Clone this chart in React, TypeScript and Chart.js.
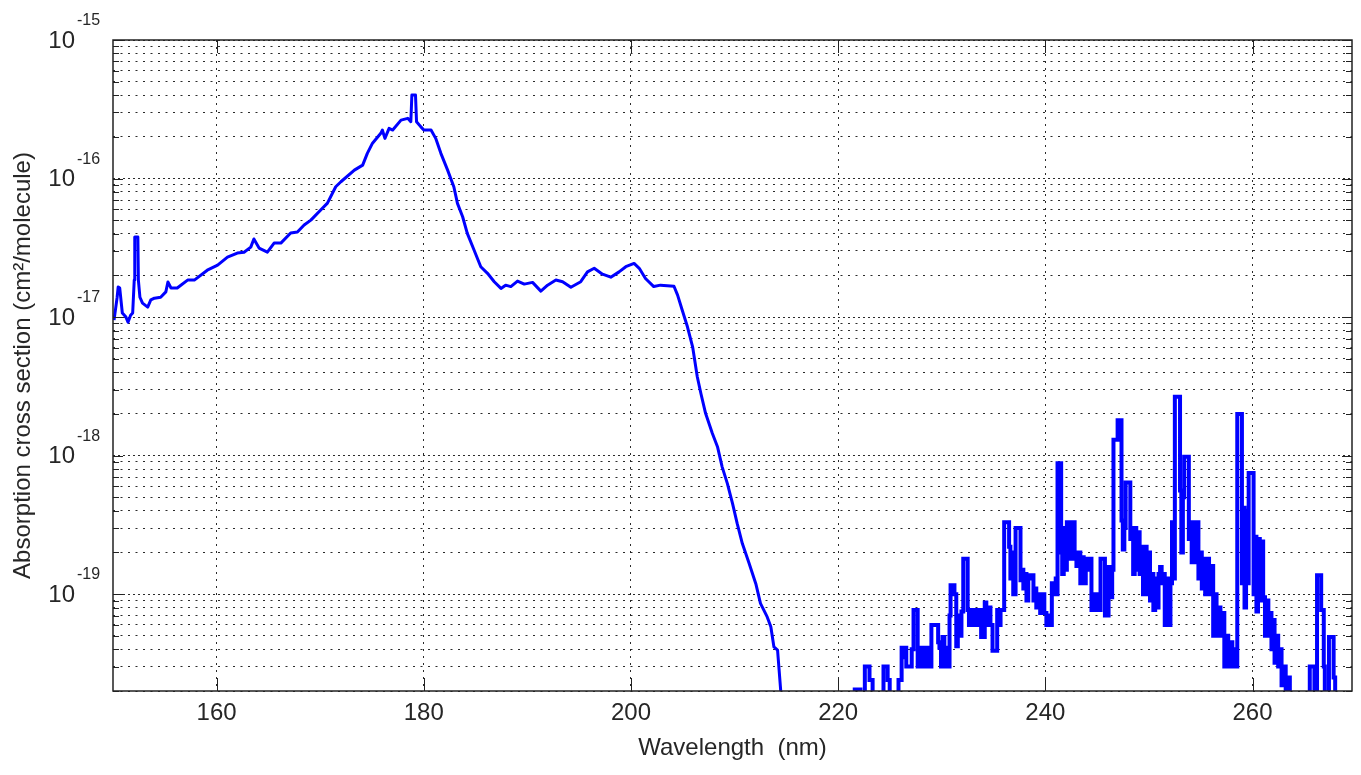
import React, { useEffect, useRef } from 'react';
import { Chart, registerables } from 'chart.js';

Chart.register(...registerables);

// ---- Continuum (150 – 215 nm) ----
const WAVELENGTH_CONTINUUM = [
  150.1, 150.4, 150.5, 150.65, 150.9, 151.25, 151.45, 151.7, 151.9, 152.05,
  152.1, 152.4, 152.45, 152.6, 152.85, 153.35, 153.65, 154.0, 154.6, 155.1,
  155.3, 155.6, 156.2, 157.2, 157.85, 159.1, 160.1, 161.05, 162.0, 162.65,
  163.3, 163.6, 164.1, 164.9, 165.55, 166.2, 167.15, 167.8, 168.45, 169.1,
  170.05, 170.7, 171.5, 172.0, 173.3, 174.1, 174.55, 175.05, 175.85, 176.0,
  176.25, 176.65, 177.0, 177.8, 178.45, 178.75, 178.85, 179.2, 179.3, 179.7,
  180.0, 180.7, 181.15, 181.65, 182.3, 182.9, 183.25, 183.75, 184.2, 184.85,
  185.5, 186.15, 186.8, 187.45, 187.9, 188.4, 189.05, 189.7, 190.5, 191.3,
  191.95, 192.75, 193.4, 194.2, 195.15, 195.8, 196.45, 197.25, 198.05, 198.85,
  199.5, 200.3, 200.8, 201.4, 202.2, 202.85, 204.15, 204.5, 204.95, 205.45,
  205.95, 206.4, 206.75, 207.2, 207.85, 208.35, 208.8, 209.3, 209.8, 210.25,
  210.75, 211.4, 212.05, 212.5, 213.15, 213.5, 213.8, 214.15, 214.3, 214.45,
  214.65,
];
const SIGMA_CONTINUUM = [
  9.5e-18, 1.39e-17, 1.65e-17, 1.62e-17, 1.07e-17, 1.0e-17, 9.2e-18, 1.03e-17, 1.07e-17, 1.85e-17,
  3.78e-17, 3.78e-17, 1.85e-17, 1.39e-17, 1.26e-17, 1.18e-17, 1.33e-17, 1.37e-17, 1.39e-17, 1.52e-17,
  1.79e-17, 1.62e-17, 1.62e-17, 1.85e-17, 1.85e-17, 2.18e-17, 2.37e-17, 2.71e-17, 2.9e-17, 2.94e-17,
  3.2e-17, 3.66e-17, 3.15e-17, 2.94e-17, 3.42e-17, 3.42e-17, 4.04e-17, 4.11e-17, 4.62e-17, 5.01e-17,
  5.93e-17, 6.65e-17, 8.73e-17, 9.48e-17, 1.15e-16, 1.25e-16, 1.52e-16, 1.8e-16, 2.12e-16, 2.24e-16,
  1.95e-16, 2.3e-16, 2.24e-16, 2.64e-16, 2.72e-16, 2.57e-16, 4.01e-16, 4.01e-16, 2.57e-16, 2.37e-16,
  2.24e-16, 2.24e-16, 1.95e-16, 1.52e-16, 1.15e-16, 8.73e-17, 6.62e-17, 5.3e-17, 4.02e-17, 3.05e-17,
  2.31e-17, 2.07e-17, 1.8e-17, 1.61e-17, 1.7e-17, 1.66e-17, 1.82e-17, 1.73e-17, 1.78e-17, 1.54e-17,
  1.7e-17, 1.85e-17, 1.8e-17, 1.64e-17, 1.8e-17, 2.12e-17, 2.25e-17, 2.04e-17, 1.94e-17, 2.12e-17,
  2.31e-17, 2.44e-17, 2.25e-17, 1.9e-17, 1.66e-17, 1.7e-17, 1.67e-17, 1.44e-17, 1.12e-17, 8.51e-18,
  6.1e-18, 3.71e-18, 2.81e-18, 2.02e-18, 1.45e-18, 1.16e-18, 8.3e-19, 6.3e-19, 4.52e-19, 3.24e-19,
  2.32e-19, 1.67e-19, 1.19e-19, 8.57e-20, 6.85e-20, 5.81e-20, 4.16e-20, 3.94e-20, 2.83e-20, 2.03e-20,
  1.5e-20,
];

// ---- Banded structure (221 – 270 nm) ----
const WAVELENGTH_BANDS = [
  221.5, 221.7, 222.1, 222.2, 222.55, 222.6, 223.0, 223.05, 223.3, 223.35,
  224.35, 224.4, 224.75, 224.8, 224.95, 225.0, 225.8, 225.85, 226.1, 226.15,
  226.35, 226.55, 226.6, 227.05, 227.15, 227.25, 227.3, 227.65, 227.7, 227.9,
  228.1, 228.3, 228.5, 228.7, 228.9, 229.1, 229.6, 229.7, 229.85, 230.0,
  230.15, 230.35, 230.5, 230.7, 230.8, 230.9, 231.15, 231.3, 231.5, 231.6,
  231.8, 232.0, 232.15, 232.45, 232.55, 232.7, 232.9, 233.1, 233.3, 233.5,
  233.7, 233.9, 234.1, 234.2, 234.4, 234.6, 234.8, 235.0, 235.3, 235.4,
  235.6, 235.75, 236.0, 236.05, 236.45, 236.55, 236.7, 236.85, 236.95, 237.1,
  237.15, 237.55, 237.65, 237.8, 237.95, 238.1, 238.25, 238.45, 238.6, 238.8,
  238.9, 239.05, 239.2, 239.4, 239.6, 239.8, 240.0, 240.2, 240.4, 240.55,
  240.7, 240.9, 241.1, 241.15, 241.2, 241.5, 241.55, 241.7, 241.85, 242.0,
  242.15, 242.3, 242.45, 242.6, 242.75, 242.9, 243.1, 243.3, 243.45, 243.6,
  243.8, 244.0, 244.2, 244.4, 244.5, 244.7, 244.9, 245.1, 245.3, 245.35,
  245.7, 245.8, 246.05, 246.15, 246.35, 246.55, 246.6, 246.95, 247.0, 247.3,
  247.4, 247.55, 247.7, 247.8, 248.15, 248.25, 248.4, 248.55, 248.7, 248.85,
  249.0, 249.2, 249.35, 249.5, 249.7, 249.85, 250.0, 250.2, 250.35, 250.5,
  250.7, 250.85, 251.0, 251.15, 251.3, 251.45, 251.6, 251.8, 252.0, 252.15,
  252.3, 252.45, 252.55, 252.95, 253.05, 253.2, 253.35, 253.45, 253.8, 253.9,
  254.05, 254.2, 254.4, 254.55, 254.7, 254.85, 255.0, 255.2, 255.35, 255.5,
  255.7, 255.9, 256.1, 256.3, 256.45, 256.6, 256.8, 257.0, 257.2, 257.35,
  257.55, 257.75, 257.95, 258.15, 258.35, 258.5, 258.55, 258.95, 259.0, 259.15,
  259.3, 259.45, 259.6, 259.65, 260.05, 260.15, 260.3, 260.45, 260.6, 260.8,
  260.95, 261.1, 261.3, 261.45, 261.6, 261.75, 261.9, 262.05, 262.2, 262.4,
  262.55, 262.7, 262.9, 263.1, 263.3, 263.5, 263.7, 265.5, 265.55, 265.95,
  266.0, 266.2, 266.25, 266.6, 266.65, 266.85, 266.9, 267.05, 267.35, 267.4,
  267.8, 267.85, 268.1, 269.6,
];
const SIGMA_BANDS = [
  1.5e-20, 2.05e-20, 2.05e-20, 1.5e-20, 1.5e-20, 3.0e-20, 3.0e-20, 2.4e-20, 2.4e-20, 1.5e-20,
  1.5e-20, 3.0e-20, 3.0e-20, 2.4e-20, 2.4e-20, 1.5e-20, 1.5e-20, 2.4e-20, 2.4e-20, 4.1e-20,
  3.5e-20, 4.1e-20, 3.0e-20, 3.0e-20, 4.0e-20, 4.0e-20, 7.7e-20, 7.7e-20, 3.0e-20, 4.1e-20,
  3.0e-20, 4.1e-20, 3.0e-20, 4.1e-20, 3.0e-20, 6.0e-20, 6.0e-20, 4.5e-20, 4.1e-20, 3.0e-20,
  4.9e-20, 3.0e-20, 4.1e-20, 3.0e-20, 7.0e-20, 1.16e-19, 1.16e-19, 1.0e-19, 4.2e-20, 7.0e-20,
  5.0e-20, 7.5e-20, 1.8e-19, 1.8e-19, 7.7e-20, 6.0e-20, 7.7e-20, 6.0e-20, 7.7e-20, 6.0e-20,
  7.7e-20, 4.9e-20, 4.9e-20, 8.7e-20, 6.0e-20, 8.0e-20, 6.0e-20, 3.9e-20, 3.9e-20, 7.7e-20,
  6.0e-20, 7.7e-20, 7.7e-20, 3.3e-19, 3.3e-19, 2.2e-19, 1.3e-19, 2.0e-19, 1.0e-19, 1.0e-19,
  3.0e-19, 3.0e-19, 1.26e-19, 1.5e-19, 1.1e-19, 1.4e-19, 9.0e-20, 1.3e-19, 1.37e-19, 1.37e-19,
  9.0e-20, 1.1e-19, 8.0e-20, 1.0e-19, 7.3e-20, 1.0e-19, 7.3e-20, 6.0e-20, 7.0e-20, 6.0e-20,
  1.2e-19, 1.0e-19, 1.3e-19, 1.0e-19, 8.8e-19, 8.8e-19, 2.0e-19, 1.4e-19, 3.0e-19, 1.5e-19,
  3.3e-19, 1.8e-19, 3.3e-19, 1.8e-19, 3.3e-19, 2.0e-19, 1.6e-19, 2.0e-19, 1.2e-19, 1.85e-19,
  1.2e-19, 1.8e-19, 1.5e-19, 1.8e-19, 7.7e-20, 1.0e-19, 7.7e-20, 1.0e-19, 7.7e-20, 1.8e-19,
  1.8e-19, 7.0e-20, 7.0e-20, 1.57e-19, 9.5e-20, 1.5e-19, 1.3e-18, 1.3e-18, 1.8e-18, 1.8e-18,
  3.4e-19, 2.1e-19, 3.0e-19, 6.4e-19, 6.4e-19, 2.5e-19, 3.0e-19, 1.4e-19, 3.0e-19, 1.5e-19,
  2.8e-19, 1.4e-19, 2.2e-19, 1.0e-19, 2.2e-19, 1.0e-19, 2.0e-19, 9.0e-20, 1.4e-19, 7.7e-20,
  1.3e-19, 8.0e-20, 1.4e-19, 1.57e-19, 1.2e-19, 1.4e-19, 6.0e-20, 1.3e-19, 6.0e-20, 1.2e-19,
  3.3e-19, 1.3e-19, 2.66e-18, 2.66e-18, 5.6e-19, 2.0e-19, 5.0e-19, 9.8e-19, 9.8e-19, 2.5e-19,
  3.3e-19, 1.7e-19, 3.3e-19, 1.7e-19, 3.3e-19, 1.3e-19, 2.0e-19, 1.1e-19, 1.8e-19, 1.0e-19,
  1.8e-19, 1.0e-19, 1.6e-19, 5.0e-20, 1.0e-19, 5.0e-20, 8.0e-20, 5.0e-20, 7.3e-20, 3.0e-20,
  5.0e-20, 3.0e-20, 4.5e-20, 3.0e-20, 4.0e-20, 3.0e-20, 2.0e-18, 2.0e-18, 1.2e-19, 4.2e-19,
  8.0e-20, 4.0e-19, 1.2e-19, 7.5e-19, 7.5e-19, 1.0e-19, 2.6e-19, 7.5e-20, 2.5e-19, 9.0e-20,
  2.4e-19, 9.5e-20, 5.0e-20, 9.0e-20, 5.0e-20, 7.3e-20, 4.0e-20, 6.5e-20, 3.2e-20, 5.0e-20,
  3.0e-20, 4.0e-20, 2.2e-20, 3.0e-20, 1.8e-20, 2.5e-20, 1.5e-20, 1.5e-20, 3.0e-20, 3.0e-20,
  1.5e-20, 1.5e-20, 1.37e-19, 1.37e-19, 7.7e-20, 7.7e-20, 3.0e-20, 1.5e-20, 1.5e-20, 4.9e-20,
  4.9e-20, 2.5e-20, 1.5e-20, 1.5e-20,
];

// ---- Axes ----
const X_TICKS = [160, 180, 200, 220, 240, 260];
const Y_EXPONENTS = [-20, -19, -18, -17, -16, -15];
const Y_MANTISSAS = [1, 2, 3, 4, 5, 6, 7, 8, 9];
const Y_LABEL_EXPONENTS = [-15, -16, -17, -18, -19];
const X_RANGE = [150, 269.6];
const Y_RANGE = [2e-20, 1e-15];

const FAMILY = '"Liberation Sans", Arial, Helvetica, sans-serif';
const TEXT_COLOR = '#262626';
const GRID_COLOR = 'rgba(20,20,20,0.9)';
const LINE_COLOR = '#0000ff';

function buildLogTicks() {
  const out: { value: number; major: boolean }[] = [];
  for (const e of Y_EXPONENTS) {
    for (const m of Y_MANTISSAS) {
      const v = Number(`${m}e${e}`);
      if (v >= Y_RANGE[0] * 0.999 && v <= Y_RANGE[1] * 1.001) out.push({ value: v, major: m === 1 });
    }
  }
  return out;
}

const matlabAxesPlugin = {
  id: 'matlabAxes',
  afterDraw(chart: any) {
    const { ctx, chartArea } = chart;
    const { left, right, top, bottom } = chartArea;
    const xs = chart.scales.x;
    const ys = chart.scales.y;
    ctx.save();
    ctx.strokeStyle = '#222';
    ctx.lineWidth = 1;
    ctx.setLineDash([]);
    ctx.beginPath();
    ys.ticks.forEach((t: any) => {
      const py = Math.round(ys.getPixelForValue(t.value)) + 0.5;
      const len = t.major ? 10 : 6;
      ctx.moveTo(left, py);
      ctx.lineTo(left + len, py);
      ctx.moveTo(right, py);
      ctx.lineTo(right - len, py);
    });
    xs.ticks.forEach((t: any) => {
      const px = Math.round(xs.getPixelForValue(t.value)) + 0.5;
      ctx.moveTo(px, bottom);
      ctx.lineTo(px, bottom - 13);
      ctx.moveTo(px, top);
      ctx.lineTo(px, top + 13);
    });
    ctx.stroke();
    ctx.lineWidth = 1.5;
    ctx.strokeRect(left, top, right - left, bottom - top);

    ctx.fillStyle = TEXT_COLOR;
    Y_LABEL_EXPONENTS.forEach((e) => {
      const py = ys.getPixelForValue(Number(`1e${e}`));
      ctx.font = `24px ${FAMILY}`;
      ctx.textAlign = 'right';
      ctx.textBaseline = 'middle';
      ctx.fillText('10', 75, py + 1);
      ctx.font = `16px ${FAMILY}`;
      ctx.textAlign = 'left';
      ctx.textBaseline = 'alphabetic';
      ctx.fillText(String(e), 77, py - 15);
    });
    ctx.restore();
  },
};

export default function App() {
  const ref = useRef<HTMLCanvasElement>(null);

  useEffect(() => {
    const canvas = ref.current;
    if (!canvas) return;
    const continuum = WAVELENGTH_CONTINUUM.map((x, i) => ({ x, y: SIGMA_CONTINUUM[i] }));
    const bands = WAVELENGTH_BANDS.map((x, i) => ({ x, y: SIGMA_BANDS[i] }));

    const chart = new Chart(canvas, {
      type: 'line',
      data: {
        datasets: [
          {
            data: continuum,
            borderColor: LINE_COLOR,
            borderWidth: 3,
            pointRadius: 0,
            tension: 0,
            fill: false,
            borderJoinStyle: 'round',
            borderCapStyle: 'butt',
            clip: 0,
          } as any,
          {
            data: bands,
            borderColor: LINE_COLOR,
            borderWidth: 4,
            pointRadius: 0,
            tension: 0,
            stepped: 'middle',
            fill: false,
            borderJoinStyle: 'miter',
            borderCapStyle: 'butt',
            clip: 0,
          } as any,
        ],
      },
      options: {
        animation: false,
        responsive: false,
        maintainAspectRatio: false,
        layout: { padding: { top: 40, right: 9, bottom: 0, left: 0 } },
        plugins: { legend: { display: false }, tooltip: { enabled: false } },
        scales: {
          x: {
            type: 'linear',
            min: X_RANGE[0],
            max: X_RANGE[1],
            afterBuildTicks: (scale: any) => {
              scale.ticks = X_TICKS.map((v) => ({ value: v }));
            },
            afterFit: (scale: any) => {
              scale.height = 84;
            },
            ticks: {
              font: { family: FAMILY, size: 24 },
              color: TEXT_COLOR,
              padding: 8,
              maxRotation: 0,
              autoSkip: false,
            },
            grid: { color: GRID_COLOR, lineWidth: 1, drawTicks: false },
            border: { display: false, dash: [2, 5] },
            title: {
              display: true,
              text: 'Wavelength  (nm)',
              font: { family: FAMILY, size: 24 },
              color: TEXT_COLOR,
              padding: { top: 0, bottom: 12 },
            },
          } as any,
          y: {
            type: 'logarithmic',
            min: Y_RANGE[0],
            max: Y_RANGE[1],
            afterBuildTicks: (scale: any) => {
              scale.ticks = buildLogTicks();
            },
            afterFit: (scale: any) => {
              scale.width = 113;
            },
            ticks: { display: false },
            grid: { color: GRID_COLOR, lineWidth: 1, drawTicks: false },
            border: {
              display: false,
              dash: (c: any) => (c.tick && c.tick.major ? [2, 3] : [2, 5.5]),
            },
            title: {
              display: true,
              text: 'Absorption cross section (cm²/molecule)',
              font: { family: FAMILY, size: 24 },
              color: TEXT_COLOR,
              padding: { top: 9, bottom: 0 },
            },
          } as any,
        },
      },
      plugins: [matlabAxesPlugin],
    });
    return () => chart.destroy();
  }, []);

  return (
    <div style={{ position: 'fixed', left: 0, top: 0, width: 1361, height: 775, background: '#fff' }}>
      <canvas ref={ref} width={1361} height={775} style={{ display: 'block', width: 1361, height: 775 }} />
    </div>
  );
}
